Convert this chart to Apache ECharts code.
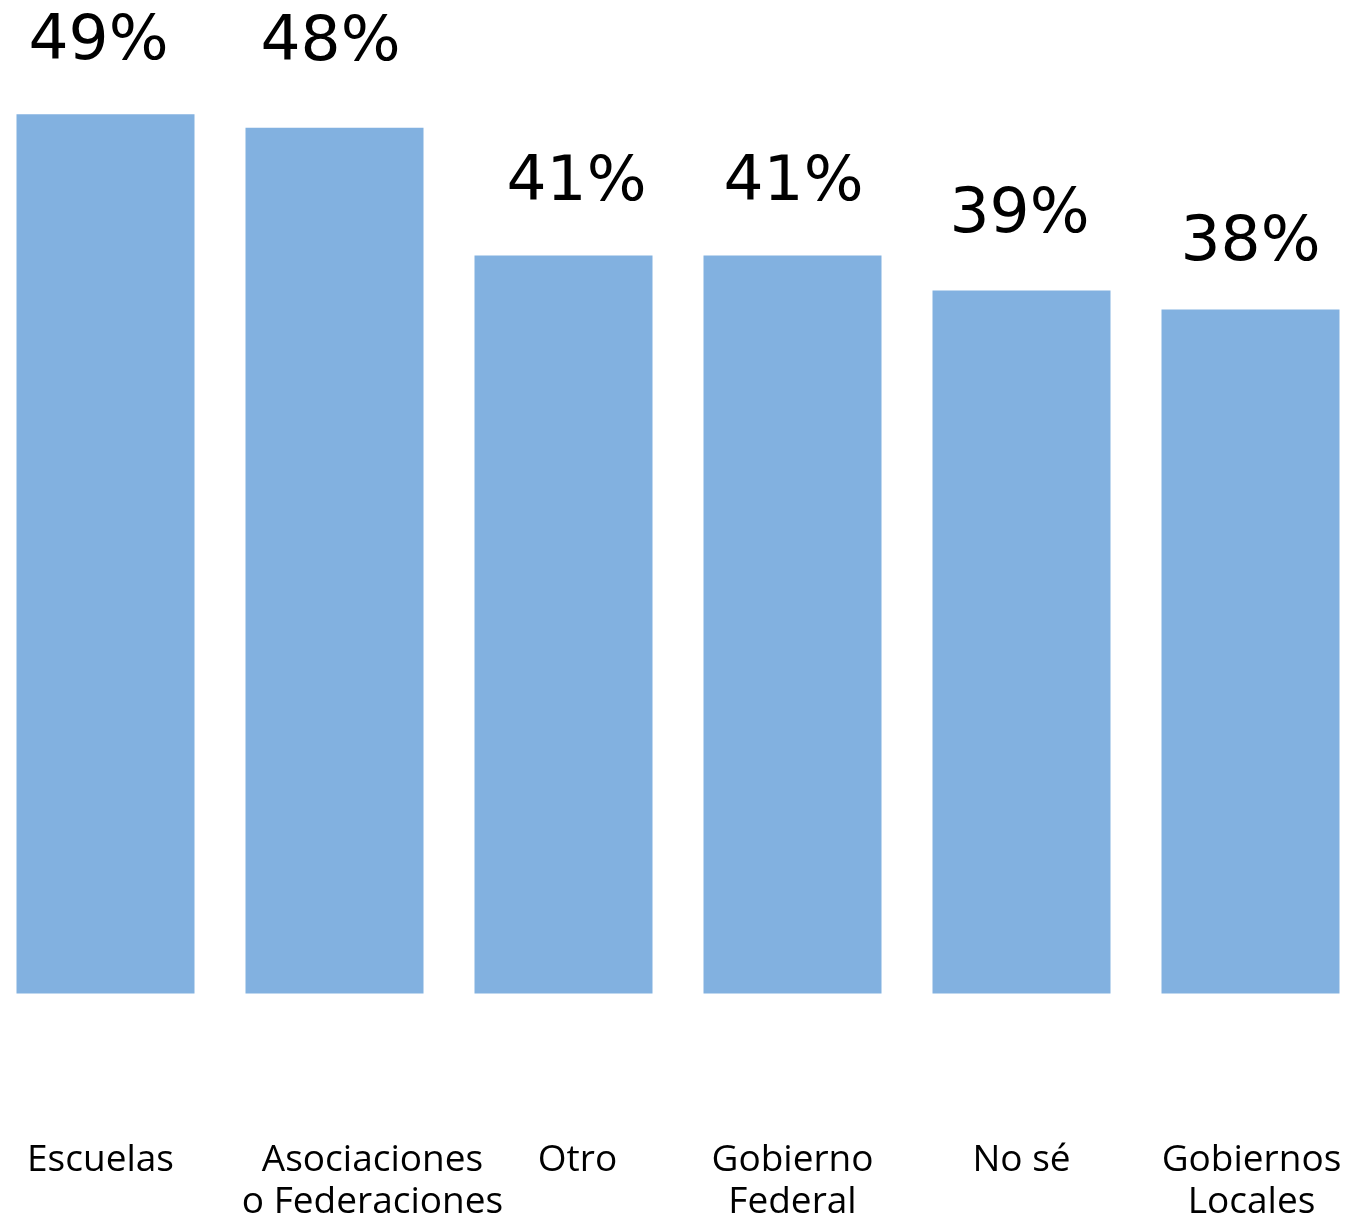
<!DOCTYPE html>
<html>
<head>
<meta charset="utf-8">
<script src="https://cdn.jsdelivr.net/npm/echarts@6/dist/echarts.min.js"></script>
<style>
html,body{margin:0;padding:0;background:#fff;}
#chart{width:1346px;height:1216px;}
</style>
</head>
<body>
<div id="chart"></div>
<script>
// Data
const categories = ['Escuelas', 'Asociaciones\no Federaciones', 'Otro', 'Gobierno\nFederal', 'No sé', 'Gobiernos\nLocales'];
const values = [48.85, 48.1, 41.0, 41.0, 39.05, 38.0];

// Layout tweaks (not data)
const catShiftX = [-5, 38, 14, 0, 0, 1];
const valLabelOffset = [[-7, 0], [-4, -13], [13, 0], [1, 0], [-2, -3], [0, 6]];

const chart = echarts.init(document.getElementById('chart'));
chart.setOption({
  animation: false,
  backgroundColor: '#ffffff',
  grid: { left: -9, right: -19, top: 93.5, bottom: 222.5, containLabel: false, outerBoundsMode: 'none' },
  xAxis: {
    type: 'category',
    data: categories.map((c, i) => ({
      value: c,
      textStyle: { padding: catShiftX[i] >= 0 ? [0, 0, 0, 2 * catShiftX[i]] : [0, -2 * catShiftX[i], 0, 0] }
    })),
    axisLine: { show: false },
    axisTick: { show: false },
    axisLabel: {
      interval: 0,
      margin: 146,
      color: '#000',
      fontFamily: 'Open Sans',
      fontSize: 37,
      lineHeight: 42
    }
  },
  yAxis: {
    type: 'value',
    min: 0, max: 50,
    show: false,
    splitLine: { show: false }
  },
  series: [{
    type: 'bar',
    barWidth: 178,
    itemStyle: { color: '#82B1E0' },
    data: values.map((v, i) => ({
      value: v,
      label: { offset: valLabelOffset[i] }
    })),
    label: {
      show: true,
      position: 'top',
      distance: 40,
      color: '#000',
      fontFamily: 'DejaVu Sans',
      fontSize: 63,
      formatter: p => Math.round(p.value) + '%'
    }
  }]
});
</script>
</body>
</html>
